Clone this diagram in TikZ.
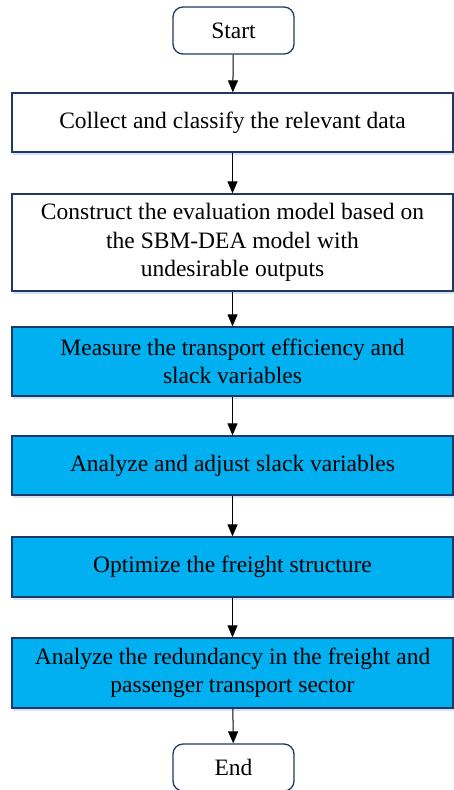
\documentclass[tikz,border=0pt]{standalone}
\usepackage{fontspec}
\setmainfont{Liberation Serif}
\usetikzlibrary{arrows.meta,shadows}
\definecolor{edgenavy}{HTML}{203864}
\definecolor{stepblue}{HTML}{00B0F0}
\definecolor{shadeblue}{HTML}{C5D9F1}
\tikzset{
  every node/.style={font=\fontsize{23.5}{28.5}\selectfont, text=black},
  procbox/.style={draw=edgenavy, line width=1.3pt, rectangle, minimum width=441pt,
    align=center, inner sep=0pt,
    drop shadow={shadow xshift=1pt, shadow yshift=-3pt, fill=shadeblue, opacity=0.7}},
  whitebox/.style={procbox, fill=white},
  bluebox/.style={procbox, fill=stepblue},
  termbox/.style={draw=edgenavy, line width=1.3pt, rectangle, rounded corners=10pt,
    fill=white, minimum width=121pt, minimum height=47pt, inner sep=0pt},
  flow/.style={draw=black, line width=1pt, -{Triangle[length=12pt, width=10pt]}}
}
\begin{document}
\begin{tikzpicture}[x=1pt, y=-1pt]
  \useasboundingbox (0,0) rectangle (454,790);
  % start / end terminals
  \node[termbox] (start) at (233.5,30.5) {Start};
  \node[termbox] (finish) at (233.5,767.5) {End};
  % process steps
  \node[whitebox, minimum height=59pt] (collect) at (232.5,122.5)
    {Collect and classify the relevant data};
  \node[whitebox, minimum height=97pt] (construct) at (232.5,242.5)
    {Construct the evaluation model based on\\the SBM-DEA model with\\undesirable outputs};
  \node[bluebox, minimum height=69pt] (measure) at (232.5,361.5)
    {Measure the transport efficiency and\\slack variables};
  \node[bluebox, minimum height=59pt] (adjust) at (232.5,465.5)
    {Analyze and adjust slack variables};
  \node[bluebox, minimum height=60pt] (optimize) at (232.5,567)
    {Optimize the freight structure};
  \node[bluebox, minimum height=70pt] (redund) at (232.5,673)
    {Analyze the redundancy in the freight and\\passenger transport sector};
  % connectors
  \draw[flow] (start) -- (collect);
  \draw[flow] (collect) -- (construct);
  \draw[flow] (construct) -- (measure);
  \draw[flow] (measure) -- (adjust);
  \draw[flow] (adjust) -- (optimize);
  \draw[flow] (optimize) -- (redund);
  \draw[flow] (redund) -- (finish);
\end{tikzpicture}
\end{document}
